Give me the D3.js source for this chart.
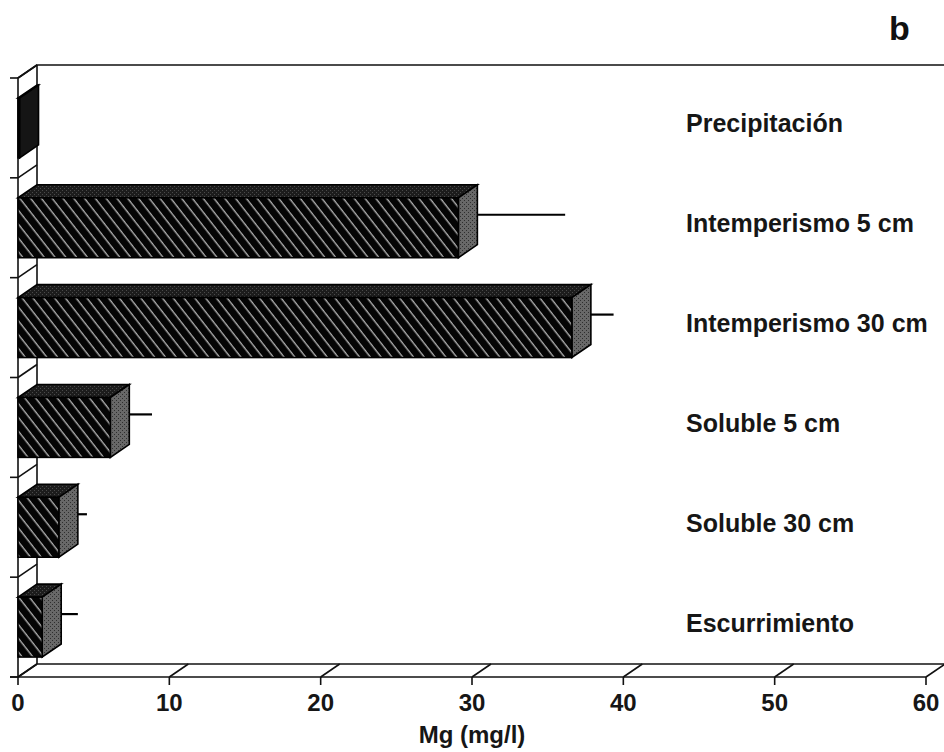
<!DOCTYPE html>
<html lang="es">
<head>
    <meta charset="UTF-8">
    <title>Mg (mg/l)</title>
    <script src="https://d3js.org/d3.v7.min.js"></script>
    <style>
        body {
            margin: 0;
            padding: 0;
            background: #fff;
        }
        svg {
            display: block;
            font-family: "Liberation Sans", Arial, sans-serif;
        }
        .frame {
            fill: none;
            stroke: #111;
            stroke-width: 1.6px;
        }
        .label {
            font-size: 25px;
            font-weight: bold;
            fill: #161616;
        }
        .tick-label {
            font-size: 24px;
            font-weight: bold;
            fill: #161616;
            text-anchor: middle;
        }
    </style>
</head>
<body>
    <svg width="944" height="752"></svg>

    <script>
        const categories = ["Precipitación", "Intemperismo 5 cm", "Intemperismo 30 cm",
                            "Soluble 5 cm", "Soluble 30 cm", "Escurrimiento"];
        const values = [0.1, 29.1, 36.6, 6.1, 2.7, 1.6];
        const errors = [0, 5.8, 1.5, 1.5, 0.6, 1.1];
        const xTicks = [0, 10, 20, 30, 40, 50, 60];

        // profundidad del efecto 3D
        const dx = 19, dy = -13;

        const svg = d3.select("svg");

        const x = d3.scaleLinear().domain([0, 60]).range([18, 926]);
        const y = d3.scaleBand()
            .domain(categories)
            .range([78, 677])
            .paddingInner(0.4)
            .paddingOuter(0.2);

        const yTop = y.range()[0], yBot = y.range()[1];
        const xL = x.range()[0], xR = x.range()[1];

        // patrones
        const defs = svg.append("defs");
        const hatch = defs.append("pattern")
            .attr("id", "hatch")
            .attr("patternUnits", "userSpaceOnUse")
            .attr("width", 8.5).attr("height", 8.5)
            .attr("patternTransform", "rotate(-38)");
        hatch.append("rect").attr("width", 8.5).attr("height", 8.5).attr("fill", "#050505");
        hatch.append("line").attr("x1", 4).attr("x2", 4).attr("y1", 0).attr("y2", 8.5)
            .attr("stroke", "#c8c8c8").attr("stroke-width", 1.2);

        function stipple(id, base, dot) {
            const p = defs.append("pattern")
                .attr("id", id)
                .attr("patternUnits", "userSpaceOnUse")
                .attr("width", 4).attr("height", 4);
            p.append("rect").attr("width", 4).attr("height", 4).attr("fill", base);
            p.append("rect").attr("x", 0).attr("y", 0).attr("width", 1).attr("height", 1).attr("fill", dot);
            p.append("rect").attr("x", 2).attr("y", 2).attr("width", 1).attr("height", 1).attr("fill", dot);
        }
        stipple("topFace", "#1c1c1c", "#4a4a4a");
        stipple("sideFace", "#686868", "#2e2e2e");

        // pared trasera y pared izquierda
        svg.append("path")
            .attr("class", "frame")
            .attr("d", `M${xL + dx},${yBot + dy}V${yTop + dy}H${xR + dx + 1}V${yBot + dy}`);
        svg.append("path")
            .attr("class", "frame")
            .attr("d", `M${xL},${yBot}V${yTop}L${xL + dx},${yTop + dy}`);

        // piso
        svg.append("line").attr("class", "frame")
            .attr("x1", xL - 8).attr("x2", xR).attr("y1", yBot).attr("y2", yBot);
        svg.append("line").attr("class", "frame")
            .attr("x1", xL + dx).attr("x2", xR + dx).attr("y1", yBot + dy).attr("y2", yBot + dy);

        const xt = svg.append("g");
        xt.selectAll(".diag").data(xTicks).enter().append("line")
            .attr("class", "frame")
            .attr("x1", d => x(d)).attr("y1", yBot)
            .attr("x2", d => x(d) + dx).attr("y2", yBot + dy);
        xt.selectAll(".tk").data(xTicks).enter().append("line")
            .attr("class", "frame")
            .attr("x1", d => x(d)).attr("x2", d => x(d))
            .attr("y1", yBot).attr("y2", yBot + 8);
        xt.selectAll("text").data(xTicks).enter().append("text")
            .attr("class", "tick-label")
            .attr("x", d => x(d)).attr("y", 711)
            .text(d => d);

        // marcas del eje de categorías
        const bounds = d3.range(categories.length + 1).map(i => yTop + i * y.step());
        const yt = svg.append("g");
        yt.selectAll(".diag").data(bounds).enter().append("line")
            .attr("class", "frame")
            .attr("x1", xL).attr("y1", d => d)
            .attr("x2", xL + dx).attr("y2", d => d + dy);
        yt.selectAll(".tk").data(bounds).enter().append("line")
            .attr("class", "frame")
            .attr("x1", xL - 8).attr("x2", xL)
            .attr("y1", d => d).attr("y2", d => d);

        // barras 3D
        const data = categories.map((c, i) => ({ cat: c, v: values[i], e: errors[i] }));
        const bw = y.bandwidth();

        const bars = svg.selectAll(".bar").data(data).enter().append("g").attr("class", "bar");

        bars.append("path")
            .attr("fill", "url(#topFace)").attr("stroke", "#000").attr("stroke-width", 1.6)
            .attr("d", d => {
                const t = y(d.cat), r = x(d.v);
                return `M${xL},${t}H${r}L${r + dx},${t + dy}H${xL + dx}Z`;
            });
        bars.append("path")
            .attr("fill", d => d.v < 0.5 ? "#151515" : "url(#sideFace)")
            .attr("stroke", "#000").attr("stroke-width", 1.6)
            .attr("d", d => {
                const t = y(d.cat), r = x(d.v);
                return `M${r},${t}V${t + bw}L${r + dx},${t + bw + dy}V${t + dy}Z`;
            });
        bars.append("rect")
            .attr("fill", "url(#hatch)").attr("stroke", "#000").attr("stroke-width", 1.6)
            .attr("x", xL)
            .attr("y", d => y(d.cat))
            .attr("width", d => x(d.v) - xL)
            .attr("height", bw);

        // barras de error
        svg.selectAll(".err").data(data.filter(d => d.e > 0)).enter().append("line")
            .attr("stroke", "#000").attr("stroke-width", 2.2)
            .attr("x1", d => x(d.v) + dx)
            .attr("x2", d => x(d.v + d.e) + dx)
            .attr("y1", d => y(d.cat) + bw / 2 + dy)
            .attr("y2", d => y(d.cat) + bw / 2 + dy);

        // etiquetas de categorías
        svg.selectAll(".label").data(categories).enter().append("text")
            .attr("class", "label")
            .attr("x", 686)
            .attr("y", d => y(d) + bw / 2 + dy / 2 + 11)
            .text(d => d);

        // título del eje
        svg.append("text")
            .attr("class", "tick-label")
            .attr("x", 472).attr("y", 743)
            .text("Mg (mg/l)");

        svg.append("text")
            .attr("x", 889).attr("y", 40)
            .attr("font-size", 34).attr("font-weight", "bold").attr("fill", "#111")
            .text("b");
    </script>
</body>
</html>
